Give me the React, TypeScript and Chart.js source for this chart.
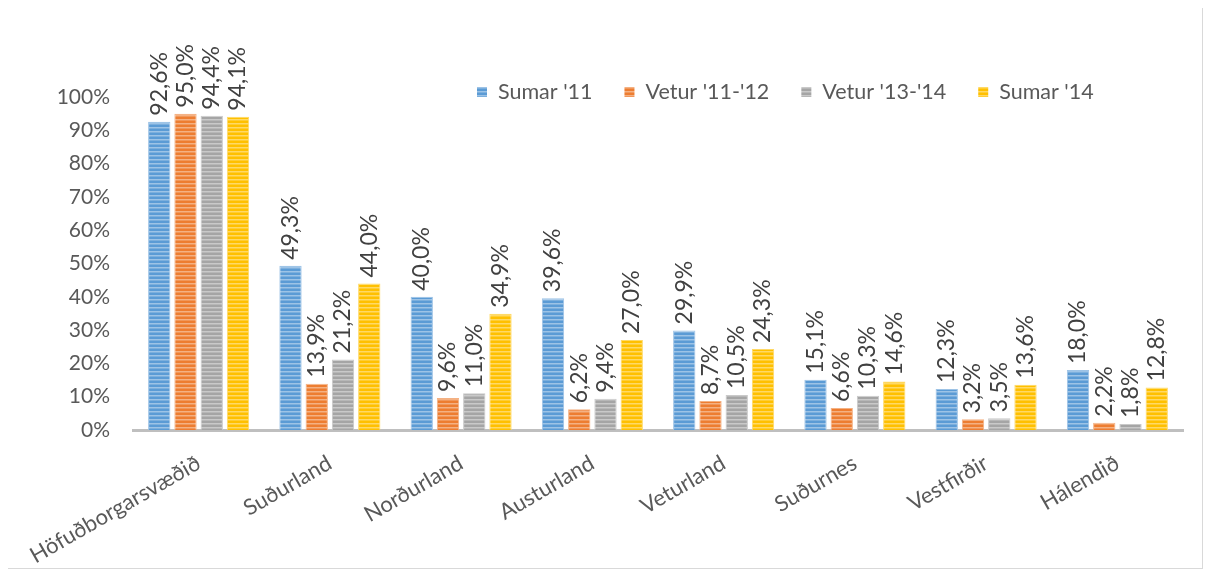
import React, { useEffect, useRef } from "react";
import { Chart, registerables } from "chart.js";

Chart.register(...registerables);

const categories = ["Höfuðborgarsvæðið", "Suðurland", "Norðurland", "Austurland", "Veturland", "Suðurnes", "Vestfirðir", "Hálendið"];
const seriesNames = ["Sumar '11", "Vetur '11-'12", "Vetur '13-'14", "Sumar '14"];
const sumar11 = [92.6, 49.3, 40.0, 39.6, 29.9, 15.1, 12.3, 18.0];
const vetur1112 = [95.0, 13.9, 9.6, 6.2, 8.7, 6.6, 3.2, 2.2];
const vetur1314 = [94.4, 21.2, 11.0, 9.4, 10.5, 10.3, 3.5, 1.8];
const sumar14 = [94.1, 44.0, 34.9, 27.0, 24.3, 14.6, 13.6, 12.8];
const yTicks = [0, 10, 20, 30, 40, 50, 60, 70, 80, 90, 100];

const baseColors = ["#5b9bd5", "#ed7d31", "#a5a5a5", "#ffc000"];
const lightColors = ["#9dc3e6", "#f4b183", "#c9c9c9", "#ffd966"];

const FONT = "Lato, 'Open Sans', sans-serif";

function makePattern(base: string, light: string): CanvasPattern | string {
  const c = document.createElement("canvas");
  c.width = 4;
  c.height = 4;
  const g = c.getContext("2d");
  if (!g) return base;
  g.fillStyle = base;
  g.fillRect(0, 0, 4, 4);
  g.fillStyle = light;
  g.fillRect(0, 0, 4, 1.5);
  const p = g.createPattern(c, "repeat");
  return p || base;
}

const fmt = (v: number) => v.toFixed(1).replace(".", ",") + "%";

const dataLabelPlugin = {
  id: "dataLabels",
  afterDatasetsDraw(chart: any) {
    const ctx = chart.ctx;
    ctx.save();
    ctx.font = `23px ${FONT}`;
    ctx.fillStyle = "#404040";
    ctx.textAlign = "left";
    ctx.textBaseline = "middle";
    chart.data.datasets.forEach((ds: any, i: number) => {
      const meta = chart.getDatasetMeta(i);
      meta.data.forEach((bar: any, j: number) => {
        const v = ds.data[j];
        ctx.save();
        ctx.translate(bar.x, bar.y - 6);
        ctx.rotate(-Math.PI / 2);
        ctx.fillText(fmt(v), 0, 0);
        ctx.restore();
      });
    });
    ctx.restore();
  },
};

const legendPlugin = {
  id: "customLegend",
  afterDraw(chart: any) {
    const ctx = chart.ctx;
    const area = chart.chartArea;
    ctx.save();
    ctx.font = `21.5px ${FONT}`;
    ctx.textBaseline = "middle";
    ctx.textAlign = "left";
    let x = area.left + 344;
    const y = area.top - 5;
    chart.data.datasets.forEach((ds: any, i: number) => {
      ctx.fillStyle = ds.backgroundColor;
      ctx.fillRect(x, y - 5, 10, 10);
      ctx.fillStyle = "#595959";
      ctx.fillText(ds.label, x + 21, y);
      x += 21 + ctx.measureText(ds.label).width + 32;
    });
    ctx.restore();
  },
};

export default function App() {
  const ref = useRef<HTMLCanvasElement | null>(null);
  useEffect(() => {
    if (!ref.current) return;
    const allData = [sumar11, vetur1112, vetur1314, sumar14];
    const chart = new Chart(ref.current, {
      type: "bar",
      data: {
        labels: categories,
        datasets: allData.map((d, i) => ({
          label: seriesNames[i],
          data: d,
          backgroundColor: makePattern(baseColors[i], lightColors[i]) as any,
          borderColor: lightColors[i],
          borderWidth: 1,
          barPercentage: 0.85,
          categoryPercentage: 0.8,
        })),
      },
      options: {
        animation: false,
        responsive: true,
        maintainAspectRatio: false,
        layout: { padding: { top: 90, right: 19, left: 0, bottom: 0 } },
        plugins: {
          legend: { display: false },
          tooltip: { enabled: false },
        },
        scales: {
          x: {
            grid: { display: false },
            border: { display: true, color: "#bfbfbf", width: 3 },
            ticks: {
              color: "#595959",
              font: { family: FONT, size: 22 },
              minRotation: 30,
              maxRotation: 30,
              autoSkip: false,
              padding: 12,
            },
            afterFit: (scale: any) => {
              scale.height = 138;
            },
          },
          y: {
            min: 0,
            max: 100,
            afterBuildTicks: (scale: any) => {
              scale.ticks = yTicks.map((v) => ({ value: v }));
            },
            grid: { display: false },
            border: { display: false },
            ticks: {
              color: "#595959",
              font: { family: FONT, size: 21 },
              padding: 15,
              callback: (v: any) => v + "%",
            },
            afterFit: (scale: any) => {
              scale.width = 125;
            },
          },
        },
      },
      plugins: [dataLabelPlugin, legendPlugin],
    });
    return () => chart.destroy();
  }, []);
  return (
    <div style={{ width: 1196, height: 563, border: "1px solid #d9d9d9", boxSizing: "border-box", marginTop: -2, marginLeft: -1 }}>
      <div style={{ position: "relative", width: 1194, height: 561 }}>
        <canvas ref={ref} />
      </div>
    </div>
  );
}
